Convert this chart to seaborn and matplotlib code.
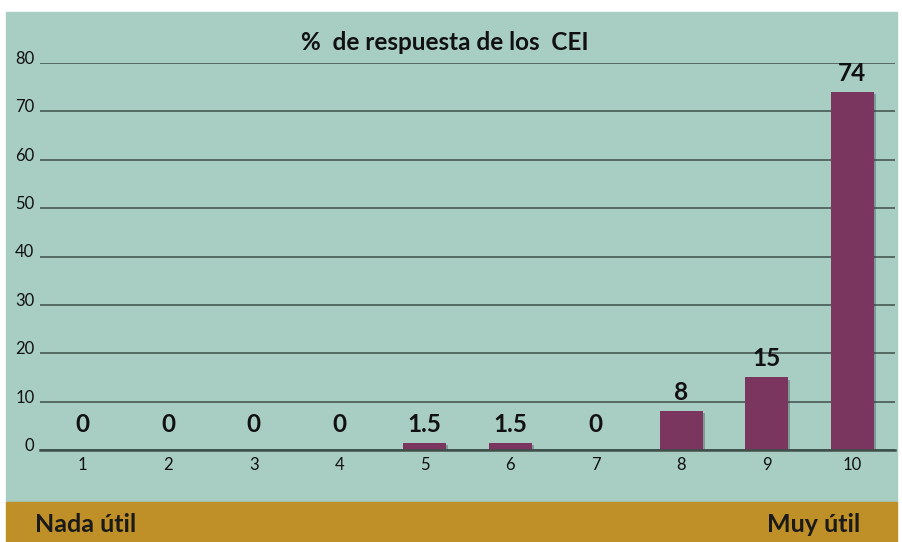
import numpy as np
import pandas as pd
import matplotlib.pyplot as plt
import matplotlib.transforms as mtransforms
import matplotlib.patheffects as pe
from matplotlib.patches import Rectangle
import seaborn as sns

# data
categories = ['1', '2', '3', '4', '5', '6', '7', '8', '9', '10']
percent = [0, 0, 0, 0, 1.5, 1.5, 0, 8, 15, 74]
labels = ['0', '0', '0', '0', '1.5', '1.5', '0', '8', '15', '74']
y_ticks = [0, 10, 20, 30, 40, 50, 60, 70, 80]

GREEN = '#a8cdc2'
GOLD = '#bf8f28'
BAR = '#7b3660'
GRID = '#3e4f49'

sns.set_style('white')
plt.rcParams['font.family'] = ['Lato', 'DejaVu Sans']

df = pd.DataFrame({'score': categories, 'pct': percent})

W, H = 903, 542
fig = plt.figure(figsize=(W / 100, H / 100), dpi=100)
fig.patch.set_facecolor('white')

# background panels
fig.add_artist(Rectangle((6 / W, 1 - 502 / H), 891 / W, 490 / H,
                         transform=fig.transFigure, color=GREEN, zorder=0))
fig.add_artist(Rectangle((6 / W, 0), 891 / W, 40 / H,
                         transform=fig.transFigure, color=GOLD, zorder=0))

ax = fig.add_axes([40 / W, 1 - 450 / H, 855 / W, 387 / H])
ax.set_facecolor('none')

sns.barplot(data=df, x='score', y='pct', color=BAR, width=0.5,
            saturation=1, linewidth=0, ax=ax, zorder=3)
for bar, v in zip(ax.patches, percent):
    if v == 0:
        bar.set_visible(False)
    else:
        bar.set_path_effects([pe.SimplePatchShadow(offset=(1.5, -1.5),
                                                   shadow_rgbFace='#2f3f3a',
                                                   alpha=0.35), pe.Normal()])

ax.set_ylim(0, 80)
ax.set_xlim(-0.5, 9.5)
ax.set_yticks(y_ticks)
ax.yaxis.grid(True, color=GRID, linewidth=1.1)
ax.set_axisbelow(True)
for s in ['top', 'right', 'left']:
    ax.spines[s].set_visible(False)
ax.spines['bottom'].set_color(GRID)
ax.spines['bottom'].set_linewidth(1.8)
ax.spines['bottom'].set_zorder(4)
ax.tick_params(axis='both', length=0, labelsize=12, colors='#111111')
ax.tick_params(axis='y', pad=4)
ax.tick_params(axis='x', pad=5)
ax.set_xlabel('')
ax.set_ylabel('')

shift = mtransforms.ScaledTranslation(0, 4 / 72, fig.dpi_scale_trans)
for t in ax.get_yticklabels():
    t.set_transform(t.get_transform() + shift)

# value labels
for i, (v, lab) in enumerate(zip(percent, labels)):
    ax.annotate(lab, (i, max(v, 1.5)), xytext=(0, 5), textcoords='offset points',
                ha='center', va='bottom', fontsize=17.5, fontweight='bold',
                color='#111111')

fig.text(445 / W, 1 - 42 / H, '%  de respuesta de los  CEI', ha='center',
         va='center', fontsize=17.5, fontweight='bold', color='#111111')
fig.text(35 / W, 1 - 524 / H, 'Nada útil', ha='left', va='center',
         fontsize=18, fontweight='bold', color='#1a1a1a')
fig.text(860 / W, 1 - 524 / H, 'Muy útil', ha='right', va='center',
         fontsize=18, fontweight='bold', color='#1a1a1a')

fig.savefig('out.png', dpi=100)
